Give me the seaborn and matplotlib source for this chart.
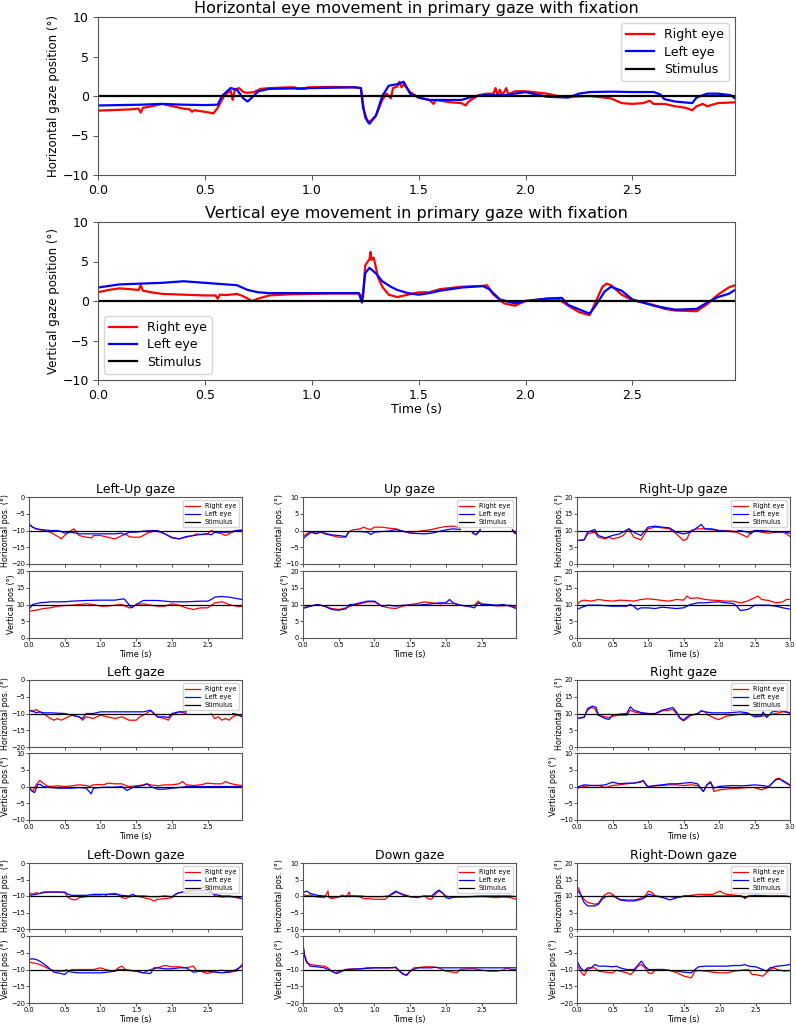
import matplotlib
matplotlib.use("Agg")
import matplotlib.pyplot as plt
import pandas as pd
import seaborn as sns

# -------------------------
# Primary gaze traces (time s, position deg)
# -------------------------
top_h_right = [(0.00, -1.85), (0.05, -1.8), (0.10, -1.75), (0.15, -1.7), (0.19, -1.6), (0.20, -2.1), (0.21, -1.5),
               (0.25, -1.3), (0.30, -1.0), (0.35, -1.3), (0.40, -1.6), (0.43, -1.7), (0.44, -2.0), (0.45, -1.8),
               (0.50, -2.0), (0.54, -2.2), (0.56, -1.5), (0.59, 0.0), (0.62, 0.7), (0.63, -0.5), (0.64, 0.8),
               (0.66, 1.0), (0.68, 0.5), (0.70, 0.4), (0.73, 0.5), (0.76, 0.9), (0.80, 1.0), (0.90, 1.1),
               (0.92, 1.1), (0.93, 0.9), (0.97, 0.9), (0.98, 1.1), (1.10, 1.15), (1.20, 1.1), (1.23, 1.0),
               (1.24, -1.0), (1.25, -2.8), (1.27, -3.3), (1.30, -2.5), (1.33, -0.5), (1.35, 0.3), (1.37, -0.3),
               (1.38, 1.0), (1.40, 1.2), (1.41, 1.8), (1.42, 1.1), (1.43, 1.5), (1.46, 0.5), (1.50, -0.2),
               (1.55, -0.5), (1.57, -1.0), (1.58, -0.5), (1.60, -0.6), (1.65, -0.8), (1.70, -0.9), (1.72, -1.2),
               (1.73, -0.8), (1.75, -0.4), (1.78, 0.1), (1.82, 0.3), (1.85, 0.3), (1.86, 1.0), (1.87, 0.0),
               (1.88, 0.8), (1.89, 0.1), (1.90, 0.5), (1.91, 1.0), (1.92, 0.2), (1.95, 0.6), (2.00, 0.6),
               (2.10, 0.3), (2.15, 0.0), (2.20, -0.1), (2.30, 0.0), (2.40, -0.3), (2.45, -0.9), (2.50, -1.0),
               (2.55, -0.9), (2.58, -0.6), (2.60, -1.0), (2.65, -1.0), (2.70, -1.3), (2.75, -1.5), (2.78, -1.8),
               (2.80, -1.3), (2.83, -1.0), (2.85, -1.3), (2.90, -0.9), (2.98, -0.8)]
top_h_left = [(0.00, -1.2), (0.10, -1.15), (0.20, -1.1), (0.30, -1.0), (0.40, -1.1), (0.50, -1.15), (0.56, -1.1),
              (0.58, 0.0), (0.62, 1.0), (0.65, 0.8), (0.68, -0.3), (0.70, -0.7), (0.72, -0.2), (0.75, 0.6),
              (0.80, 0.9), (1.00, 1.0), (1.20, 1.1), (1.23, 1.0), (1.24, -1.5), (1.26, -3.2), (1.27, -3.5),
              (1.30, -2.5), (1.33, 0.0), (1.36, 1.3), (1.40, 1.5), (1.43, 1.8), (1.46, 0.3), (1.50, -0.2),
              (1.55, -0.5), (1.60, -0.5), (1.70, -0.5), (1.75, -0.1), (1.80, 0.1), (1.90, 0.1), (2.00, 0.5),
              (2.05, 0.2), (2.10, -0.1), (2.20, -0.2), (2.25, 0.3), (2.30, 0.5), (2.40, 0.55), (2.50, 0.5),
              (2.60, 0.5), (2.63, 0.2), (2.65, -0.4), (2.70, -0.7), (2.78, -0.9), (2.80, -0.2), (2.85, 0.3),
              (2.90, 0.3), (2.96, 0.1), (2.98, -0.3)]
top_v_right = [(0.00, 1.1), (0.05, 1.4), (0.10, 1.6), (0.15, 1.5), (0.19, 1.4), (0.20, 2.0), (0.21, 1.3),
               (0.25, 1.1), (0.30, 0.9), (0.40, 0.8), (0.50, 0.7), (0.55, 0.7), (0.56, 0.3), (0.57, 0.8),
               (0.60, 0.75), (0.65, 0.9), (0.68, 0.6), (0.70, 0.3), (0.72, 0.0), (0.75, 0.3), (0.80, 0.7),
               (0.90, 0.85), (1.00, 0.9), (1.10, 0.95), (1.22, 0.95), (1.24, 0.5), (1.25, 4.5), (1.27, 5.3),
               (1.275, 6.2), (1.28, 5.2), (1.29, 5.5), (1.31, 3.0), (1.33, 1.8), (1.36, 0.8), (1.40, 0.5),
               (1.45, 0.8), (1.50, 1.1), (1.55, 1.1), (1.60, 1.5), (1.70, 1.8), (1.80, 1.9), (1.82, 2.0),
               (1.85, 0.8), (1.90, -0.3), (1.95, -0.6), (2.00, 0.0), (2.10, 0.3), (2.15, 0.3), (2.20, -0.6),
               (2.25, -1.4), (2.30, -1.8), (2.33, 0.0), (2.36, 1.8), (2.38, 2.2), (2.40, 2.0), (2.45, 0.8),
               (2.50, 0.1), (2.55, -0.2), (2.60, -0.5), (2.65, -1.0), (2.70, -1.2), (2.80, -1.3), (2.85, -0.4),
               (2.90, 0.8), (2.95, 1.7), (2.98, 2.0)]
top_v_left = [(0.00, 1.7), (0.10, 2.1), (0.20, 2.2), (0.30, 2.3), (0.40, 2.5), (0.50, 2.3), (0.60, 2.1),
              (0.65, 2.0), (0.70, 1.4), (0.75, 1.1), (0.80, 1.0), (1.00, 1.0), (1.22, 1.0), (1.235, -0.2),
              (1.25, 3.5), (1.27, 4.2), (1.30, 3.5), (1.33, 2.5), (1.37, 1.8), (1.40, 1.4), (1.45, 1.0),
              (1.50, 0.8), (1.55, 1.0), (1.60, 1.3), (1.70, 1.7), (1.80, 1.9), (1.83, 1.5), (1.88, 0.2),
              (1.95, -0.3), (2.00, 0.0), (2.10, 0.3), (2.17, 0.4), (2.20, -0.5), (2.30, -1.6), (2.33, -0.5),
              (2.37, 1.2), (2.40, 1.8), (2.45, 1.3), (2.50, 0.2), (2.60, -0.6), (2.70, -1.1), (2.80, -1.0),
              (2.85, -0.2), (2.90, 0.5), (2.95, 0.9), (2.98, 1.4)]

# -------------------------
# Eccentric gaze traces
# -------------------------
lu_h_right = [(0.0, -8.0), (0.05, -9.0), (0.1, -9.5), (0.2, -10.0), (0.3, -10.5), (0.38, -11.5), (0.42, -12.0),
              (0.45, -12.5), (0.5, -11.5), (0.55, -10.5), (0.63, -9.5), (0.67, -10.5), (0.7, -11.5), (0.8, -12.0),
              (0.88, -12.2), (0.9, -11.5), (1.0, -11.5), (1.1, -12.0), (1.2, -12.5), (1.3, -11.5), (1.35, -11.0),
              (1.4, -11.8), (1.45, -12.0), (1.55, -12.0), (1.6, -11.5), (1.65, -10.8), (1.75, -10.2), (1.8, -10.0),
              (1.85, -10.5), (1.9, -11.0), (2.0, -12.0), (2.1, -12.5), (2.2, -12.0), (2.3, -11.5), (2.35, -11.0),
              (2.4, -11.2), (2.5, -11.0), (2.55, -10.0), (2.6, -10.5), (2.7, -11.0), (2.75, -11.5), (2.8, -11.0),
              (2.85, -10.5), (2.9, -10.0), (2.98, -9.8)]
lu_h_left = [(0.0, -8.2), (0.05, -9.0), (0.1, -9.5), (0.2, -9.8), (0.3, -10.0), (0.4, -10.0), (0.45, -10.3),
             (0.5, -10.8), (0.6, -10.5), (0.65, -10.8), (0.7, -11.0), (0.8, -11.0), (1.0, -11.0), (1.2, -11.0),
             (1.3, -10.8), (1.33, -11.3), (1.4, -10.5), (1.5, -10.5), (1.6, -10.2), (1.75, -10.0), (1.8, -10.2),
             (1.9, -11.0), (2.0, -12.2), (2.1, -12.5), (2.2, -11.8), (2.3, -11.5), (2.4, -11.2), (2.5, -11.0),
             (2.55, -11.3), (2.6, -10.5), (2.7, -10.5), (2.8, -10.5), (2.9, -10.0), (2.98, -10.0)]
lu_v_right = [(0.0, 8.0), (0.1, 8.3), (0.2, 8.8), (0.3, 9.0), (0.4, 9.5), (0.5, 9.7), (0.6, 9.8), (0.7, 10.0),
              (0.8, 10.2), (0.9, 10.0), (1.0, 9.5), (1.1, 9.5), (1.2, 9.8), (1.3, 10.0), (1.35, 9.5), (1.4, 9.0),
              (1.45, 9.2), (1.5, 10.0), (1.6, 10.2), (1.7, 9.8), (1.8, 9.5), (1.9, 9.5), (2.0, 10.2), (2.1, 9.8),
              (2.2, 9.0), (2.3, 8.5), (2.4, 9.0), (2.5, 9.0), (2.6, 10.5), (2.7, 10.8), (2.8, 10.0), (2.9, 9.5),
              (2.98, 9.4)]
lu_v_left = [(0.0, 8.5), (0.05, 10.0), (0.15, 10.5), (0.3, 10.8), (0.5, 10.8), (0.6, 11.0), (0.8, 11.2),
             (1.0, 11.3), (1.2, 11.3), (1.33, 11.7), (1.38, 10.5), (1.43, 9.0), (1.5, 10.0), (1.6, 11.2),
             (1.8, 11.2), (2.0, 10.8), (2.2, 10.8), (2.4, 11.0), (2.5, 11.0), (2.55, 11.5), (2.6, 12.2),
             (2.7, 12.4), (2.8, 12.2), (2.9, 11.8), (2.98, 11.5)]

up_h_right = [(0.0, -1.8), (0.05, -1.0), (0.1, -0.5), (0.2, -0.8), (0.25, -0.5), (0.3, -1.0), (0.4, -1.5),
              (0.5, -2.0), (0.6, -2.0), (0.63, -0.5), (0.7, 0.2), (0.8, 0.5), (0.85, 1.0), (0.9, 0.5), (0.95, 0.3),
              (1.0, 1.0), (1.1, 1.0), (1.2, 0.7), (1.3, 0.5), (1.4, -0.3), (1.5, -0.5), (1.6, -0.3), (1.7, 0.0),
              (1.8, 0.3), (1.9, 0.8), (2.0, 1.2), (2.1, 1.3), (2.2, 0.8), None, (2.37, -0.8), (2.42, -1.2),
              (2.45, -0.6), (2.48, 0.3), None, (2.93, 0.3), (2.96, -0.5), (2.98, -0.7)]
up_h_left = [(0.0, -2.5), (0.05, -1.5), (0.12, -0.5), (0.18, -1.0), (0.25, -0.3), (0.3, -0.8), (0.4, -1.3),
             (0.5, -1.5), (0.6, -1.8), (0.65, -0.3), (0.8, -0.3), (0.9, -0.5), (0.95, -1.2), (1.0, -0.5),
             (1.1, -0.3), (1.2, -0.2), (1.3, 0.3), (1.4, -0.2), (1.5, -0.8), (1.7, -1.0), (1.8, -0.8), (1.9, -0.3),
             (2.0, 0.2), (2.1, 0.5), (2.2, 0.3), None, (2.37, -0.5), (2.42, -1.3), (2.46, -0.5), (2.48, 0.2),
             None, (2.93, 0.2), (2.96, -0.8), (2.98, -1.0)]
up_v_right = [(0.0, 9.0), (0.1, 9.5), (0.2, 10.0), (0.3, 9.5), (0.4, 8.8), (0.5, 8.5), (0.6, 9.0), (0.7, 9.8),
              (0.8, 10.2), (0.9, 10.8), (1.0, 10.8), (1.1, 9.5), (1.2, 9.0), (1.3, 8.8), (1.4, 9.5), (1.5, 10.0),
              (1.6, 10.3), (1.7, 10.8), (1.8, 10.5), (1.9, 10.2), (2.0, 10.3), (2.1, 10.3), (2.2, 9.8), (2.3, 9.5),
              (2.4, 9.8), (2.45, 11.0), (2.5, 10.2), (2.6, 10.0), (2.7, 9.6), (2.8, 9.6), (2.9, 9.8), (2.98, 9.2)]
up_v_left = [(0.0, 8.8), (0.1, 9.5), (0.2, 10.0), (0.3, 9.5), (0.4, 8.5), (0.5, 8.3), (0.6, 8.7), (0.65, 10.0),
             (0.7, 10.0), (0.8, 10.5), (0.9, 11.0), (1.0, 11.0), (1.05, 10.3), (1.1, 9.5), (1.2, 9.8), (1.3, 9.5),
             (1.4, 9.8), (1.5, 9.8), (1.6, 9.8), (1.7, 10.0), (1.8, 10.2), (1.9, 10.5), (2.0, 10.5), (2.05, 11.5),
             (2.1, 10.5), (2.2, 9.8), (2.3, 9.5), (2.4, 9.0), (2.45, 10.5), (2.5, 10.0), (2.6, 10.0), (2.7, 9.8),
             (2.8, 10.0), (2.9, 9.5), (2.98, 8.8)]

ru_h_right = [(0.0, 7.0), (0.1, 7.2), (0.15, 9.0), (0.25, 9.5), (0.3, 8.0), (0.4, 7.5), (0.45, 8.0), (0.5, 7.5),
              (0.6, 8.0), (0.65, 8.5), (0.73, 10.5), (0.8, 8.0), (0.9, 7.2), (1.0, 10.5), (1.1, 11.0), (1.2, 10.8),
              (1.3, 10.5), (1.4, 9.0), (1.5, 7.0), (1.55, 7.5), (1.6, 10.0), (1.7, 10.5), (1.8, 10.5), (1.9, 10.2),
              (2.0, 10.0), (2.1, 10.0), (2.2, 9.8), (2.3, 9.0), (2.4, 8.0), (2.45, 9.5), (2.5, 10.0), (2.55, 9.8),
              (2.6, 9.5), (2.7, 9.2), (2.8, 9.5), (2.9, 9.5), (2.95, 9.0), (3.0, 8.2)]
ru_h_left = [(0.0, 7.0), (0.1, 7.2), (0.15, 9.5), (0.25, 10.3), (0.3, 8.5), (0.4, 7.8), (0.5, 8.5), (0.6, 9.0),
             (0.73, 10.5), (0.8, 9.5), (0.9, 8.5), (1.0, 11.0), (1.1, 11.3), (1.2, 11.0), (1.3, 10.8), (1.4, 9.5),
             (1.5, 9.0), (1.6, 9.5), (1.7, 11.0), (1.75, 11.8), (1.8, 10.5), (1.9, 10.5), (2.0, 10.0), (2.1, 9.8),
             (2.2, 9.6), (2.3, 10.0), (2.4, 9.5), (2.45, 9.0), (2.5, 10.0), (2.6, 10.0), (2.7, 9.8), (2.8, 9.5),
             (2.9, 9.6), (3.0, 9.2)]
ru_v_right = [(0.0, 10.0), (0.05, 11.0), (0.1, 11.3), (0.2, 11.0), (0.3, 11.5), (0.4, 11.2), (0.5, 11.0),
              (0.6, 11.3), (0.7, 11.2), (0.8, 11.0), (0.9, 11.5), (1.0, 11.7), (1.1, 11.5), (1.2, 11.2),
              (1.3, 11.0), (1.4, 11.5), (1.5, 11.3), (1.55, 12.5), (1.6, 11.8), (1.7, 12.0), (1.8, 11.5),
              (1.9, 11.3), (2.0, 11.2), (2.1, 11.0), (2.2, 11.0), (2.3, 10.5), (2.4, 11.0), (2.5, 12.0),
              (2.55, 12.5), (2.6, 11.5), (2.7, 11.2), (2.8, 10.5), (2.9, 10.8), (2.95, 11.5), (3.0, 11.5)]
ru_v_left = [(0.0, 8.5), (0.05, 9.0), (0.15, 9.8), (0.3, 9.8), (0.5, 9.5), (0.7, 9.5), (0.75, 10.0), (0.8, 9.5),
             (0.85, 8.5), (0.9, 9.0), (1.0, 9.0), (1.1, 8.8), (1.2, 9.2), (1.3, 9.0), (1.4, 8.8), (1.5, 9.0),
             (1.6, 10.0), (1.7, 10.5), (1.8, 10.5), (1.9, 10.7), (2.0, 10.8), (2.1, 10.5), (2.2, 10.3), (2.25, 9.5),
             (2.3, 8.2), (2.4, 8.5), (2.45, 9.0), (2.5, 9.8), (2.6, 9.8), (2.7, 9.8), (2.8, 9.5), (2.9, 9.0),
             (3.0, 8.6)]

lf_h_right = [(0.0, -9.0), (0.05, -9.5), (0.1, -8.8), (0.15, -9.5), (0.2, -10.0), (0.3, -11.5), (0.35, -12.0),
              (0.4, -11.5), (0.45, -12.0), (0.5, -11.5), (0.6, -10.5), (0.7, -11.0), (0.75, -12.0), (0.8, -11.0),
              (0.9, -11.5), (1.0, -10.5), (1.1, -11.0), (1.2, -11.5), (1.3, -11.0), (1.4, -12.0), (1.5, -12.0),
              (1.55, -11.0), (1.6, -10.5), (1.7, -9.2), (1.8, -11.0), (1.9, -11.5), (1.95, -12.0), (2.0, -10.5),
              (2.1, -9.5), (2.2, -10.0), None, (2.55, -10.0), (2.6, -11.5), (2.65, -11.0), (2.7, -12.0),
              (2.75, -11.5), (2.8, -12.0), (2.85, -11.0), (2.9, -10.5), (2.98, -10.5)]
lf_h_left = [(0.0, -9.0), (0.05, -9.2), (0.1, -9.8), (0.15, -9.5), (0.2, -9.8), (0.3, -9.8), (0.5, -10.0),
             (0.6, -10.5), (0.7, -11.0), (0.75, -11.5), (0.8, -10.0), (0.9, -10.0), (1.0, -9.5), (1.2, -9.5),
             (1.4, -9.5), (1.6, -9.5), (1.7, -9.0), (1.75, -10.0), (1.8, -11.0), (1.9, -11.0), (1.95, -11.2),
             (2.0, -10.0), (2.1, -9.5), (2.2, -9.5), None, (2.85, -10.0), (2.9, -10.2), (2.98, -11.0)]
lf_v_right = [(0.0, -0.5), (0.05, -1.5), (0.1, 0.5), (0.15, 1.8), (0.2, 1.0), (0.25, 0.2), (0.3, 0.0), (0.4, 0.2),
              (0.5, 0.0), (0.6, 0.2), (0.7, 0.5), (0.8, 0.3), (0.85, 0.0), (0.9, 0.5), (1.0, 0.6), (1.05, 0.5),
              (1.1, 1.0), (1.2, 0.8), (1.3, 0.8), (1.35, 0.3), (1.4, 0.0), (1.5, 0.2), (1.6, 0.5), (1.65, 0.8),
              (1.7, 0.5), (1.8, 0.2), (1.9, 0.5), (2.0, 0.5), (2.1, 0.8), (2.15, 1.5), (2.2, 0.5), (2.3, 0.3),
              (2.4, 0.5), (2.5, 1.0), (2.6, 0.8), (2.7, 0.8), (2.75, 1.5), (2.8, 1.0), (2.9, 0.5), (2.98, 0.3)]
lf_v_left = [(0.0, -0.3), (0.05, -1.5), (0.08, -1.8), (0.12, 0.5), (0.15, 0.7), (0.2, 0.0), (0.3, -0.3),
             (0.4, -0.5), (0.6, -0.5), (0.7, -0.3), (0.8, -0.5), (0.87, -2.2), (0.9, -0.5), (1.0, -0.3),
             (1.1, -0.2), (1.2, -0.2), (1.3, 0.0), (1.37, -1.2), (1.45, -0.3), (1.5, 0.0), (1.6, 0.3),
             (1.65, 0.8), (1.7, 0.0), (1.8, -0.8), (1.9, -0.8), (2.0, -0.5), (2.1, -0.3), (2.2, 0.0), (2.4, 0.0),
             (2.6, 0.0), (2.8, 0.0), (2.98, 0.0)]

rt_h_right = [(0.0, 8.5), (0.1, 9.0), (0.15, 11.0), (0.2, 11.8), (0.25, 11.5), (0.3, 9.5), (0.4, 9.0),
              (0.45, 8.8), (0.5, 9.2), (0.6, 9.5), (0.7, 9.5), (0.75, 11.0), (0.8, 10.5), (0.9, 10.0), (1.0, 10.0),
              (1.1, 9.8), (1.2, 10.8), (1.3, 11.0), (1.35, 11.2), (1.4, 10.0), (1.45, 8.5), (1.5, 7.8),
              (1.55, 8.5), (1.6, 9.5), (1.7, 9.8), (1.75, 10.8), (1.8, 10.5), (1.85, 9.5), (1.95, 8.5), (2.0, 8.2),
              (2.1, 9.2), (2.2, 9.5), (2.3, 9.8), (2.4, 10.0), (2.5, 9.5), (2.6, 9.2), (2.7, 9.5), (2.8, 10.0),
              (2.9, 10.5), (3.0, 10.3)]
rt_h_left = [(0.0, 8.5), (0.1, 8.8), (0.15, 11.5), (0.22, 12.2), (0.27, 11.8), (0.3, 9.5), (0.4, 8.5),
             (0.45, 8.2), (0.5, 9.5), (0.6, 9.8), (0.7, 10.0), (0.75, 12.0), (0.8, 11.0), (0.9, 10.3), (1.0, 10.0),
             (1.1, 10.0), (1.2, 11.0), (1.3, 11.5), (1.35, 11.8), (1.4, 10.5), (1.45, 8.8), (1.5, 8.0),
             (1.55, 9.0), (1.6, 9.5), (1.7, 10.0), (1.75, 10.8), (1.8, 10.5), (1.9, 10.2), (2.0, 10.2),
             (2.1, 10.2), (2.2, 10.3), (2.3, 10.5), (2.4, 10.2), (2.5, 9.0), (2.6, 9.2), (2.62, 10.5), (2.67, 8.8),
             (2.75, 10.5), (2.85, 10.8), (2.95, 10.5), (3.0, 10.0)]
rt_v_right = [(0.0, -0.5), (0.1, 0.0), (0.2, 0.3), (0.3, 0.3), (0.4, -0.3), (0.5, 0.3), (0.6, 0.5), (0.7, 0.8),
              (0.8, 1.0), (0.9, 1.3), (0.93, 1.8), (0.97, 0.8), (1.0, -0.3), (1.1, 0.2), (1.2, 0.3), (1.3, 0.5),
              (1.4, 0.5), (1.5, 0.3), (1.6, 0.5), (1.7, 0.3), (1.78, -1.5), (1.83, 0.5), (1.88, 1.5),
              (1.93, -1.5), (2.0, -1.0), (2.1, -0.8), (2.2, -0.6), (2.3, -0.5), (2.4, -0.3), (2.5, -0.3),
              (2.6, -1.0), (2.7, -0.2), (2.8, 2.2), (2.85, 2.5), (2.9, 1.5), (3.0, 0.3)]
rt_v_left = [(0.0, -0.2), (0.1, 0.5), (0.2, 0.3), (0.3, 0.3), (0.4, 0.5), (0.5, 1.3), (0.6, 0.8), (0.7, 1.0),
             (0.8, 1.0), (0.9, 1.5), (0.93, 1.8), (0.97, 0.5), (1.0, 0.0), (1.1, 0.3), (1.2, 0.5), (1.3, 0.8),
             (1.4, 0.8), (1.5, 1.0), (1.6, 1.2), (1.7, 0.8), (1.78, -1.5), (1.83, 0.5), (1.88, 1.2), (1.93, -0.5),
             (2.0, 0.0), (2.1, 0.2), (2.2, 0.3), (2.3, 0.2), (2.4, 0.3), (2.5, 0.5), (2.6, 0.3), (2.7, 0.0),
             (2.8, 2.0), (2.85, 2.2), (2.9, 1.8), (3.0, 0.5)]

ld_h_right = [(0.0, -9.0), (0.05, -9.5), (0.1, -9.0), (0.15, -9.3), (0.2, -9.0), (0.3, -8.8), (0.4, -8.8),
              (0.5, -9.0), (0.55, -10.5), (0.6, -11.0), (0.65, -11.2), (0.7, -10.5), (0.8, -10.2), (0.9, -10.0),
              (1.0, -10.0), (1.05, -10.2), (1.1, -9.5), (1.2, -9.2), (1.25, -9.5), (1.3, -10.5), (1.35, -10.8),
              (1.4, -10.3), (1.45, -10.0), (1.5, -10.0), (1.6, -10.5), (1.7, -11.0), (1.75, -11.5), (1.8, -11.0),
              (1.9, -10.8), (2.0, -10.5), (2.05, -9.5), (2.1, -9.0), (2.2, -8.5), (2.3, -8.0), (2.45, -7.3),
              (2.55, -8.5), (2.6, -10.0), (2.7, -10.3), (2.8, -10.2), (2.9, -10.5), (2.98, -10.8)]
ld_h_left = [(0.0, -9.8), (0.1, -9.5), (0.15, -9.2), (0.2, -8.8), (0.3, -8.8), (0.4, -8.8), (0.5, -8.8),
             (0.55, -9.5), (0.6, -9.8), (0.7, -9.8), (0.8, -9.8), (0.9, -9.5), (1.0, -9.5), (1.1, -9.5),
             (1.2, -9.5), (1.3, -9.8), (1.4, -10.0), (1.45, -9.5), (1.5, -10.0), (1.6, -10.0), (1.7, -10.2),
             (1.8, -10.2), (1.9, -10.0), (2.0, -10.2), (2.05, -9.5), (2.1, -9.0), (2.2, -8.8), (2.3, -8.5),
             (2.4, -8.3), (2.5, -8.5), (2.6, -9.5), (2.7, -10.0), (2.8, -10.0), (2.9, -10.3), (2.98, -10.8)]
ld_v_right = [(0.0, -7.8), (0.05, -8.0), (0.1, -8.2), (0.15, -8.5), (0.2, -9.0), (0.25, -9.5), (0.3, -10.0),
              (0.35, -10.3), (0.4, -10.5), (0.5, -10.5), (0.52, -10.0), (0.55, -10.5), (0.6, -10.0), (0.7, -10.0),
              (0.8, -10.0), (0.9, -10.0), (1.0, -9.5), (1.1, -10.2), (1.2, -10.5), (1.25, -9.5), (1.3, -9.0),
              (1.35, -10.0), (1.4, -10.3), (1.5, -10.5), (1.6, -11.0), (1.7, -10.0), (1.8, -9.5), (1.9, -8.8),
              (2.0, -9.2), (2.1, -9.2), (2.2, -9.5), (2.3, -9.0), (2.35, -10.5), (2.4, -10.5), (2.5, -11.2),
              (2.6, -10.5), (2.7, -10.2), (2.8, -10.8), (2.9, -10.5), (2.98, -8.5)]
ld_v_left = [(0.0, -7.0), (0.05, -6.8), (0.1, -7.0), (0.15, -7.5), (0.25, -9.0), (0.3, -10.0), (0.35, -10.8),
             (0.45, -11.2), (0.5, -11.5), (0.55, -10.5), (0.6, -10.8), (0.7, -11.0), (0.8, -11.0), (0.9, -11.0),
             (1.0, -11.0), (1.1, -10.8), (1.2, -10.5), (1.25, -10.0), (1.3, -10.0), (1.4, -10.2), (1.5, -10.5),
             (1.6, -11.0), (1.7, -11.2), (1.75, -9.5), (1.8, -9.5), (1.9, -9.8), (2.0, -9.8), (2.1, -9.5),
             (2.2, -9.5), (2.3, -10.8), (2.4, -10.5), (2.5, -10.5), (2.6, -10.8), (2.7, -11.0), (2.8, -10.8),
             (2.9, -10.0), (2.98, -9.0)]

dn_h_right = [(0.0, 0.5), (0.05, 0.0), (0.1, 0.3), (0.2, -0.3), (0.3, -0.5), (0.35, 1.5), (0.36, -0.3),
              (0.4, -0.8), (0.5, -0.3), (0.55, 0.3), (0.6, -0.3), (0.65, 1.2), (0.66, -0.2), (0.7, 0.0),
              (0.8, -0.3), (0.85, -0.8), (0.9, -0.8), (1.0, -1.0), (1.1, -1.0), (1.15, -1.0), (1.2, 0.0),
              (1.25, 0.5), (1.3, 1.2), (1.35, 1.0), (1.4, 0.5), (1.45, 0.2), (1.5, -0.3), (1.6, -0.5), (1.7, 0.0),
              (1.75, -0.8), (1.8, -1.0), (1.85, 0.5), (1.9, 1.5), (1.95, 1.0), (2.0, 0.0), (2.1, -0.5),
              (2.2, -0.3), (2.3, -0.3), (2.5, -0.2), (2.6, -0.3), (2.7, -0.5), (2.8, -0.3), (2.9, -0.5),
              (2.98, -1.0)]
dn_h_left = [(0.0, 1.0), (0.05, 1.5), (0.1, 0.8), (0.2, 0.2), (0.3, 0.0), (0.4, -0.3), (0.5, -0.2), (0.6, 0.0),
             (0.7, 0.0), (0.8, 0.0), (0.9, -0.2), (1.0, -0.2), (1.1, -0.2), (1.2, 0.0), (1.25, 0.8), (1.3, 1.5),
             (1.35, 0.8), (1.4, 0.3), (1.5, -0.2), (1.6, -0.3), (1.7, 0.0), (1.8, 0.0), (1.85, 1.0), (1.9, 1.8),
             (1.95, 1.0), (2.0, -0.5), (2.05, -0.8), (2.1, -0.3), (2.3, -0.2), (2.5, 0.0), (2.7, 0.0), (2.9, 0.0),
             (2.98, -0.2)]
dn_v_right = [(0.0, -2.5), (0.02, -6.0), (0.05, -8.0), (0.1, -8.5), (0.2, -8.8), (0.3, -9.0), (0.35, -9.5),
              (0.4, -10.5), (0.45, -11.0), (0.5, -10.5), (0.6, -10.0), (0.7, -9.8), (0.8, -9.8), (0.9, -9.5),
              (1.0, -9.5), (1.1, -9.5), (1.2, -9.5), (1.3, -9.5), (1.35, -10.5), (1.4, -11.5), (1.45, -11.5),
              (1.5, -10.5), (1.55, -9.5), (1.6, -9.5), (1.7, -9.2), (1.8, -9.2), (1.9, -9.5), (2.0, -10.5),
              (2.1, -10.8), (2.15, -11.0), (2.2, -10.0), (2.3, -9.8), (2.4, -9.8), (2.5, -10.2), (2.6, -10.5),
              (2.7, -10.5), (2.8, -10.2), (2.85, -9.5), (2.9, -10.0), (2.98, -10.0)]
dn_v_left = [(0.0, -2.5), (0.02, -5.5), (0.05, -7.5), (0.1, -9.0), (0.2, -9.2), (0.3, -9.5), (0.4, -10.5),
             (0.47, -11.2), (0.55, -10.5), (0.6, -10.0), (0.8, -9.8), (1.0, -9.5), (1.2, -9.5), (1.3, -9.3),
             (1.35, -10.5), (1.42, -11.5), (1.45, -11.8), (1.5, -10.5), (1.6, -9.5), (1.8, -9.5), (1.85, -9.3),
             (1.9, -9.5), (2.0, -9.5), (2.2, -9.5), (2.4, -9.5), (2.6, -9.5), (2.8, -9.5), (2.98, -9.5)]

rd_h_right = [(0.0, 13.0), (0.03, 12.0), (0.05, 10.5), (0.1, 9.0), (0.15, 8.0), (0.2, 7.8), (0.25, 7.5),
              (0.3, 7.8), (0.35, 9.5), (0.4, 10.5), (0.45, 11.0), (0.5, 10.5), (0.55, 9.5), (0.6, 9.0), (0.7, 8.8),
              (0.8, 8.8), (0.85, 9.0), (0.9, 9.5), (0.95, 10.0), (1.0, 11.5), (1.05, 11.0), (1.1, 10.0),
              (1.2, 9.8), (1.3, 9.8), (1.4, 9.5), (1.5, 10.0), (1.6, 10.2), (1.7, 10.5), (1.8, 10.5), (1.9, 10.5),
              (2.0, 11.5), (2.05, 10.8), (2.1, 10.5), (2.2, 10.3), (2.3, 10.0), (2.35, 9.2), (2.4, 10.0),
              (2.5, 10.0), (2.7, 10.0), (2.9, 10.0), (2.98, 9.8)]
rd_h_left = [(0.0, 12.0), (0.05, 10.5), (0.1, 8.0), (0.15, 7.0), (0.25, 7.0), (0.3, 7.5), (0.35, 9.0), (0.4, 9.8),
             (0.5, 10.0), (0.55, 9.5), (0.6, 8.8), (0.7, 8.5), (0.8, 8.5), (0.9, 9.0), (0.95, 9.5), (1.0, 10.5),
             (1.1, 10.0), (1.2, 9.5), (1.25, 9.2), (1.3, 8.8), (1.4, 9.5), (1.5, 10.0), (1.6, 10.0), (1.7, 9.8),
             (1.8, 10.0), (2.0, 10.0), (2.2, 10.0), (2.3, 10.0), (2.35, 9.5), (2.4, 10.0), (2.5, 10.2),
             (2.7, 10.0), (2.9, 10.0), (2.98, 9.8)]
rd_v_right = [(0.0, -8.5), (0.05, -10.5), (0.1, -11.8), (0.15, -10.0), (0.2, -9.5), (0.25, -9.5), (0.3, -10.5),
              (0.4, -10.8), (0.5, -11.0), (0.55, -10.2), (0.6, -10.5), (0.7, -11.0), (0.75, -11.5), (0.8, -10.5),
              (0.85, -9.0), (0.9, -8.5), (0.95, -9.5), (1.0, -11.0), (1.05, -11.2), (1.1, -10.0), (1.2, -10.0),
              (1.3, -10.3), (1.4, -11.0), (1.5, -12.0), (1.6, -12.5), (1.65, -10.5), (1.7, -10.3), (1.8, -10.5),
              (1.9, -10.8), (2.0, -11.0), (2.1, -11.0), (2.2, -10.5), (2.3, -10.2), (2.4, -10.0), (2.45, -11.5),
              (2.5, -11.5), (2.6, -12.0), (2.65, -11.0), (2.7, -10.0), (2.75, -9.5), (2.8, -10.0), (2.9, -10.5),
              (2.98, -10.3)]
rd_v_left = [(0.0, -7.5), (0.05, -9.5), (0.1, -10.5), (0.15, -9.5), (0.2, -9.5), (0.25, -8.5), (0.3, -9.0),
             (0.4, -9.0), (0.5, -9.2), (0.55, -9.0), (0.6, -9.5), (0.7, -10.0), (0.8, -10.0), (0.9, -7.5),
             (0.95, -9.0), (1.0, -10.0), (1.1, -10.0), (1.2, -10.0), (1.3, -10.3), (1.4, -10.5), (1.5, -10.8),
             (1.6, -11.0), (1.65, -10.0), (1.7, -9.2), (1.8, -9.0), (1.9, -9.0), (2.0, -9.0), (2.1, -9.0),
             (2.2, -8.8), (2.3, -8.8), (2.35, -8.5), (2.4, -9.0), (2.5, -9.2), (2.6, -10.0), (2.65, -10.5),
             (2.7, -9.5), (2.8, -9.0), (2.9, -8.8), (2.98, -8.5)]

# panel settings, in grid order (row, col)
panel_titles = ["Left-Up gaze", "Up gaze", "Right-Up gaze", "Left gaze", "Right gaze",
                "Left-Down gaze", "Down gaze", "Right-Down gaze"]
panel_cells = [(0, 0), (0, 1), (0, 2), (1, 0), (1, 2), (2, 0), (2, 1), (2, 2)]
panel_traces = [(lu_h_right, lu_h_left, lu_v_right, lu_v_left), (up_h_right, up_h_left, up_v_right, up_v_left),
                (ru_h_right, ru_h_left, ru_v_right, ru_v_left), (lf_h_right, lf_h_left, lf_v_right, lf_v_left),
                (rt_h_right, rt_h_left, rt_v_right, rt_v_left), (ld_h_right, ld_h_left, ld_v_right, ld_v_left),
                (dn_h_right, dn_h_left, dn_v_right, dn_v_left), (rd_h_right, rd_h_left, rd_v_right, rd_v_left)]
stim_h = [-10, 0, 10, -10, 10, -10, 0, 10]
stim_v = [10, 10, 10, 0, 0, -10, -10, -10]
h_limits = [(-20, 0), (-10, 10), (0, 20), (-20, 0), (0, 20), (-20, 0), (-10, 10), (0, 20)]
v_limits = [(0, 20), (0, 20), (0, 20), (-10, 10), (-10, 10), (-20, 0), (-20, 0), (-20, 0)]
x_end = [2.98, 2.98, 3.0, 2.98, 3.0, 2.98, 2.98, 2.98]
x_ticks_short = [0.0, 0.5, 1.0, 1.5, 2.0, 2.5]
x_ticks_long = [0.0, 0.5, 1.0, 1.5, 2.0, 2.5, 3.0]

RED, BLUE, BLACK = "#ff0000", "#0000ff", "#000000"
W, H = 796, 1025


def draw(ax, pts, color, lw, label=None):
    # split the trace where a None marks a gap (blinks)
    segs = [[]]
    for p in pts:
        if p is None:
            segs.append([])
        else:
            segs[-1].append(p)
    first = True
    for seg in segs:
        if len(seg) < 2:
            continue
        df = pd.DataFrame(seg, columns=["t", "v"])
        sns.lineplot(data=df, x="t", y="v", ax=ax, color=color, lw=lw, sort=False,
                     estimator=None, label=label if first else None, legend=False)
        first = False


def stimulus(ax, value, xmax, lw, label="Stimulus"):
    df = pd.DataFrame({"t": [0.0, xmax], "v": [value, value]})
    sns.lineplot(data=df, x="t", y="v", ax=ax, color=BLACK, lw=lw, sort=False,
                 estimator=None, label=label, legend=False)


def box(x0, y0, x1, y1):
    return [x0 / W, 1 - y1 / H, (x1 - x0) / W, (y1 - y0) / H]


def style(ax, size, length, pad):
    for s in ax.spines.values():
        s.set_color("#555555")
        s.set_linewidth(0.8)
    ax.tick_params(labelsize=size, length=length, width=0.7, color="#555555", pad=pad)


fig = plt.figure(figsize=(W / 100, H / 100), dpi=100)

# -------------------------
# 1. Primary gaze panels
# -------------------------
top_specs = [
    ("Horizontal eye movement in primary gaze with fixation", "Horizontal gaze position (°)",
     top_h_right, top_h_left, (17, 175), "upper right"),
    ("Vertical eye movement in primary gaze with fixation", "Vertical gaze position (°)",
     top_v_right, top_v_left, (222, 380), "lower left"),
]
for i, (title, ylabel, right, left, (yt, yb), loc) in enumerate(top_specs):
    ax = fig.add_axes(box(98, yt, 735, yb))
    draw(ax, right, RED, 1.6, "Right eye")
    draw(ax, left, BLUE, 1.6, "Left eye")
    stimulus(ax, 0, 2.98, 1.6)
    ax.set_xlim(0, 2.98)
    ax.set_ylim(-10, 10)
    ax.set_xticks(x_ticks_short)
    ax.set_yticks([-10, -5, 0, 5, 10])
    ax.set_title(title, fontsize=11.5, pad=3)
    ax.set_ylabel(ylabel, fontsize=8.5, labelpad=2)
    ax.set_xlabel("Time (s)" if i == 1 else "", fontsize=9, labelpad=1)
    style(ax, 9, 3.5, 3)
    ax.legend(loc=loc, fontsize=9, handlelength=2.2, borderpad=0.4, labelspacing=0.35)

# -------------------------
# 2. Eccentric gaze panels
# -------------------------
col_x = [29, 303, 577]
row_y = [(497, 564, 571, 638), (680, 747, 753, 820), (863, 929, 936, 1003)]

for k, title in enumerate(panel_titles):
    r, c = panel_cells[k]
    x0 = col_x[c]
    ht, hb, vt, vb = row_y[r]
    h_right, h_left, v_right, v_left = panel_traces[k]
    xmax = x_end[k]
    ticks = x_ticks_long if xmax >= 3.0 else x_ticks_short

    axh = fig.add_axes(box(x0, ht, x0 + 213, hb))
    draw(axh, h_right, RED, 0.9, "Right eye")
    draw(axh, h_left, BLUE, 0.9, "Left eye")
    stimulus(axh, stim_h[k], xmax, 0.9)
    axh.set_xlim(0, xmax)
    axh.set_ylim(*h_limits[k])
    axh.set_yticks(range(h_limits[k][0], h_limits[k][1] + 1, 5))
    axh.set_xticks(ticks)
    axh.set_xticklabels([])
    axh.set_xlabel("")
    axh.set_ylabel("Horizontal pos. (°)", fontsize=5.8, labelpad=0.5)
    axh.set_title(title, fontsize=9, pad=3)
    style(axh, 4.8, 2, 1)
    axh.legend(loc="upper right", fontsize=4.7, handlelength=2.2, borderpad=0.4, labelspacing=0.3)

    axv = fig.add_axes(box(x0, vt, x0 + 213, vb))
    draw(axv, v_right, RED, 0.9)
    draw(axv, v_left, BLUE, 0.9)
    stimulus(axv, stim_v[k], xmax, 0.9, label=None)
    axv.set_xlim(0, xmax)
    axv.set_ylim(*v_limits[k])
    axv.set_yticks(range(v_limits[k][0], v_limits[k][1] + 1, 5))
    axv.set_xticks(ticks)
    axv.set_xlabel("Time (s)", fontsize=5.8, labelpad=1)
    axv.set_ylabel("Vertical pos (°)", fontsize=5.8, labelpad=0.5)
    style(axv, 4.8, 2, 1)

fig.savefig("out.png", dpi=100)
